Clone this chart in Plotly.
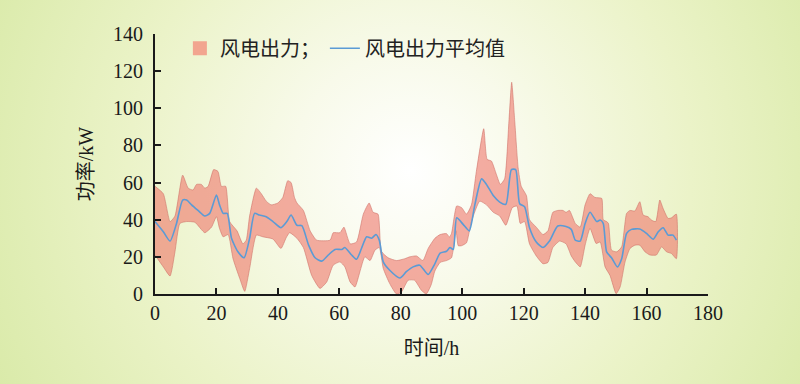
import base64
import plotly.graph_objects as go

# ---- data ----
hours_upper = [0, 2.7, 4.9, 6.5, 9, 10.8, 12.4, 13.5, 15.1, 16.2, 17.3, 19.1, 20.5, 21.6, 23, 24.3, 26.7, 28.6,
               29.7, 30.8, 33, 34.6, 36.2, 37.8, 40, 41.6, 43.2, 44.3, 45.4, 46.2, 48.3, 50.5, 52.6, 57, 58,
               60.2, 61.5, 63.5, 65.6, 67.8, 69.7, 71, 72.6, 73.7, 75.9, 78.6, 81.3, 82.9, 85.1, 87.2, 88.9,
               91.1, 92.8, 94.9, 95.8, 96.5, 98.2, 99.8, 101.4, 103, 104.6, 107, 108.1, 109.5, 111.1, 112.4,
               113.8, 115.2, 116.1, 117.1, 118.2, 119.2, 120.9, 121.9, 124.1, 126.3, 127.9, 129.5, 131.1,
               132.8, 133.8, 134.9, 136.8, 138.4, 140, 141.6, 143.2, 145.4, 145.9, 147, 147.6, 148.6, 150.3,
               151.9, 153.5, 154.6, 156.2, 157.8, 158.9, 160.5, 161.6, 163, 164.3, 165.4, 167, 168.1, 169.7]
upper = [58, 54, 39, 42, 64, 57, 56, 59, 59, 57, 58, 67, 66, 58, 58, 39, 34, 27,
         29, 42, 57, 54, 50, 48, 49, 52, 61, 60, 52, 49, 45, 34, 29, 29, 33,
         33, 36, 27, 28, 43, 49, 44, 43, 23, 19.5, 18, 19, 20, 20.5, 18, 24.5,
         30, 32, 32.5, 30.7, 32.5, 47.4, 46.5, 43, 48, 66, 89, 72.5, 71.6, 64.5, 59,
         62, 93, 114, 93, 68, 58, 53, 40, 36, 32, 34, 44, 45,
         45, 44, 45, 38, 36, 48, 54, 52, 51.5, 40, 39, 38, 23.6, 22.7,
         25.4, 43.4, 45, 44.7, 49.7, 42.5, 41.6, 39.8, 39, 50.6, 46, 40.7, 41, 43]

hours_mean = [0, 2.7, 4.9, 7, 9, 10.3, 11.9, 14, 16.2, 17.8, 20, 21, 22.2, 23.5, 24.9, 27, 29, 30.8, 32.4,
              34, 36.2, 38.4, 41, 42.9, 44.3, 46.2, 47.8, 50, 52.1, 54.3, 56.4, 58.6, 60.8, 61.8, 64, 65.6,
              67.2, 68.9, 70.5, 71.9, 73, 74.3, 76.4, 79.7, 81.8, 84, 86.2, 88.9, 91, 92.8, 94.9, 96, 97.1,
              98.2, 100.3, 102.3, 104.1, 106.3, 107.9, 110.1, 112.2, 114.2, 116, 117.4, 118.7, 120.3, 121.9,
              124.1, 126.3, 128.4, 131.1, 133.8, 135.5, 136.8, 138.4, 140, 141.6, 143.8, 144.9, 145.9, 147,
              148.6, 150.5, 151.9, 153.5, 155.1, 157.8, 160, 162.2, 163.8, 165.4, 167, 168.6, 169.7]
mean = [39, 33.5, 28.5, 38, 50.6, 50.6, 48, 45, 42, 43.4, 53.3, 48, 43.4, 43.4, 30, 22.7, 19.5, 30, 43.4,
        42.5, 41.6, 39, 35.7, 39, 42.5, 37, 36.8, 26.3, 19.5, 17.7, 21, 24, 24, 25, 21, 18.7,
        24.5, 30.8, 30, 32, 29, 17.3, 12.8, 8.6, 12, 14.6, 15.5, 10.5, 16, 22, 23, 25, 24,
        41, 37.5, 34, 48, 62, 59, 53, 49.5, 48.3, 67, 67, 48.6, 47, 35.7,
        28, 25, 28.5, 36.6, 36.3, 34.8, 29, 28.5, 38, 44, 39, 39.8, 38, 22.7,
        19.5, 14.6, 19, 32.6, 34.8, 35, 32.6, 29.5, 33.5, 35.7, 31.7, 31.7, 29]

hours_lower = [0, 2.7, 4.9, 6.5, 8.1, 10.3, 13, 16.2, 18.4, 20, 21, 22.2, 23.8, 25.4, 27.6, 29.2, 30.8, 33,
               35.1, 38.4, 41, 42.7, 43.8, 46.2, 48.3, 51, 53.7, 55.9, 58, 60.2, 61.8, 63.5, 65.1, 66.7,
               68.3, 70, 71.6, 73, 74.3, 76.4, 78.6, 80.2, 82.4, 84.5, 86.7, 88.3, 89.9, 91.1, 92.8, 94.9,
               96.5, 98, 98.7, 99.8, 101.4, 103, 105.7, 107.9, 110.1, 112.2, 114.2, 116.3, 117.8, 118.9,
               120.3, 121.9, 124.1, 126.3, 127.9, 129.5, 131.7, 133.8, 135.5, 136.8, 138.4, 140, 141.6,
               143.6, 144.9, 146.5, 148.1, 150.1, 151.4, 153, 154.6, 156.2, 157.8, 159.5, 161.1, 163.2,
               164.9, 166.5, 168.1, 169.7]
lower = [21, 14.6, 9.7, 22.7, 38, 39, 38.6, 33, 36, 41.6, 35.3, 30.8, 32, 19, 8.3, 1.4, 13.7, 31.7,
         30.8, 29.6, 24.5, 30.3, 33, 30, 25, 10, 3, 6.5, 15.5, 17.3, 14.6, 6.5, 3.8, 12,
         20, 18, 23.6, 25, 13.7, 5.6, 0, 1, 7.4, 7.4, 2, 0, 5, 12.4, 17, 18,
         19.5, 34, 26, 26, 27.6, 39, 50, 48, 44, 42, 37, 46.5, 47.4, 38,
         39, 27, 20.5, 16.3, 17, 25, 28.5, 27, 20.5, 17.3, 14.6, 26.3, 35.3,
         27.2, 28, 14.6, 10, 0.2, 3.8, 17.3, 24.5, 26.3, 26.3, 22.7, 21, 21,
         25.4, 22.7, 21.8, 19]

x_ticks = [0, 20, 40, 60, 80, 100, 120, 140, 160, 180]
y_ticks = [0, 20, 40, 60, 80, 100, 120, 140]
band_name = "风电出力；"
mean_name = "风电出力平均值"
x_title = "时间/h"
y_title = "功率/kW"

band_fill = "rgba(238,118,106,0.6)"

# ---- background radial gradient (SVG) ----
svg = ('<svg xmlns="http://www.w3.org/2000/svg" width="800" height="384" viewBox="0 0 800 384">'
       '<defs><radialGradient id="g" cx="410" cy="170" r="470" gradientUnits="userSpaceOnUse">'
       '<stop offset="0" stop-color="#ffffff"/>'
       '<stop offset="0.25" stop-color="#f8faea"/>'
       '<stop offset="0.6" stop-color="#ebf3c8"/>'
       '<stop offset="1" stop-color="#d9eaa8"/>'
       '</radialGradient></defs>'
       '<rect width="800" height="384" fill="url(#g)"/></svg>')
svg_uri = "data:image/svg+xml;base64," + base64.b64encode(svg.encode()).decode()

L, R, T, B = 155, 92, 34, 90
W, H = 800, 384
pw, ph = W - L - R, H - T - B

fig = go.Figure()
fig.add_trace(go.Scatter(
    x=hours_upper + hours_lower[::-1],
    y=upper + lower[::-1],
    fill="toself",
    fillcolor=band_fill,
    line=dict(color="rgba(205,110,100,0.7)", width=0.8, shape="spline", smoothing=0.5),
    mode="lines",
    name=band_name,
    showlegend=False,
    hoverinfo="skip",
))
# legend-only entry with a square swatch
fig.add_trace(go.Scatter(
    x=[None], y=[None], mode="markers",
    marker=dict(symbol="square", size=14, color="#f2a58f"),
    name=band_name,
))
fig.add_trace(go.Scatter(
    x=hours_mean, y=mean, mode="lines",
    line=dict(color="#5b9bd5", width=1.6, shape="spline", smoothing=0.6),
    name=mean_name,
))

font_family = "Liberation Serif, Noto Sans CJK SC, serif"
fig.update_layout(
    width=W, height=H,
    margin=dict(l=L, r=R, t=T, b=B),
    paper_bgcolor="#e6f0c0",
    plot_bgcolor="rgba(0,0,0,0)",
    font=dict(family=font_family, size=20, color="#1a1a1a"),
    showlegend=True,
    legend=dict(
        orientation="h", x=0.045, y=1.02, xanchor="left", yanchor="top",
        bgcolor="rgba(0,0,0,0)", font=dict(size=20, color="#222"),
        itemwidth=30, tracegroupgap=0,
    ),
    images=[dict(
        source=svg_uri, xref="paper", yref="paper",
        x=-L / pw, y=1 + T / ph, sizex=W / pw, sizey=H / ph,
        xanchor="left", yanchor="top", sizing="stretch", layer="below",
    )],
    xaxis=dict(
        range=[0, 180], tickvals=x_ticks, ticktext=[str(v) for v in x_ticks],
        ticks="inside", ticklen=6, tickwidth=1.5, tickcolor="#1a1a1a",
        showline=True, linecolor="#1a1a1a", linewidth=1.8,
        showgrid=False, zeroline=False,
        title=dict(text=x_title, font=dict(size=20), standoff=18),
    ),
    yaxis=dict(
        range=[0, 140], tickvals=y_ticks, ticktext=[str(v) for v in y_ticks],
        ticks="inside", ticklen=6, tickwidth=1.5, tickcolor="#1a1a1a",
        showline=True, linecolor="#1a1a1a", linewidth=1.8,
        showgrid=False, zeroline=False, ticklabelstandoff=6,
        title=dict(text=y_title, font=dict(size=20), standoff=14),
    ),
)

fig.write_html("out.html", config={"displayModeBar": False},
               post_script="document.body.style.margin='0';document.body.style.overflow='hidden';")
